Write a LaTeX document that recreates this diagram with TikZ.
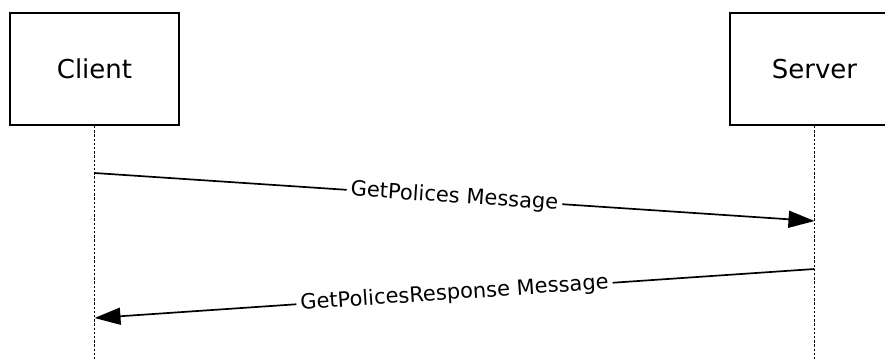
\documentclass[tikz,border=0pt]{standalone}
\usepackage{fontspec}
\setmainfont{DejaVu Sans}
\usetikzlibrary{arrows.meta,positioning}

\begin{document}
\begin{tikzpicture}[
    x=0.5pt, y=-0.5pt,
    actor/.style={rectangle, draw, line width=1pt, minimum width=84.5pt, minimum height=56pt, font=\fontsize{13}{15}\selectfont},
    lifeline/.style={draw, line width=0.8pt, dash pattern=on 1.2pt off 0.9pt},
    msg/.style={draw, line width=0.85pt, -{Triangle[length=13pt,width=8.5pt]}},
    msglabel/.style={midway, sloped, fill=white, inner sep=2pt, font=\fontsize{10.5}{12}\selectfont}
]
\clip (0,0) rectangle (885,360);

% Actors
\node[actor] (client) at (94.5,69) {Client};
\node[actor] (server) at (814.5,69) {Server};

% Lifeline ends
\coordinate (clientend) at (94.5,365);
\coordinate (serverend) at (814.5,365);

% Message ends on the lifelines
\coordinate (c1) at (94.5,173);
\coordinate (s1) at (814.5,221);
\coordinate (s2) at (814.5,269);
\coordinate (c2) at (94.5,318);

\path[lifeline] (client.south) -- (clientend);
\path[lifeline] (server.south) -- (serverend);

\path (c1) edge[msg] node[msglabel]{GetPolices Message} (s1)
      (s2) edge[msg] node[msglabel]{GetPolicesResponse Message} (c2);
\end{tikzpicture}
\end{document}
